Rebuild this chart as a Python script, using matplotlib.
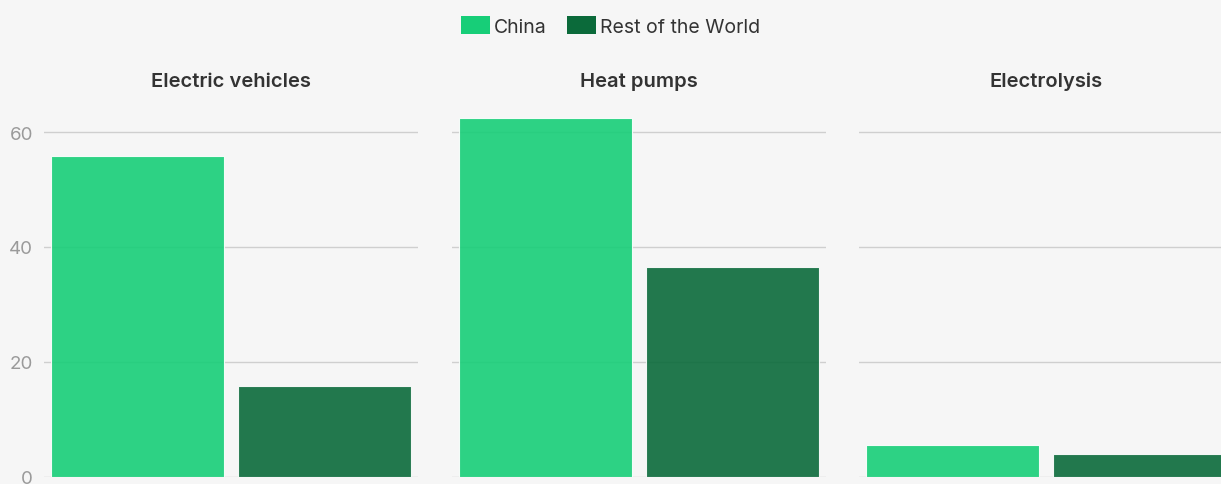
"""Clean-tech manufacturing share: China vs rest of the world."""

import matplotlib.pyplot as plt
from matplotlib.patches import Patch

technologies = ["Electric vehicles", "Heat pumps", "Electrolysis"]
regions = ["China", "Rest of the World"]
china = [55.8, 62.4, 5.6]
rest_of_world = [15.8, 36.5, 4.0]
y_ticks = [0, 20, 40, 60]

BG = "#f6f6f6"
COLORS = ["#17ce78", "#0b6a3a"]
FONT = ["Inter", "DejaVu Sans"]

plt.rcParams["font.family"] = FONT

W, H = 1221, 485
fig = plt.figure(figsize=(W / 100, H / 100), dpi=100, facecolor=BG)

# axes placed in pixel terms: left edge, width, bottom, height
panel_left = [44, 452, 859]
panel_w = 374
bottom_px = 7
height_px = 65 * 5.75

for i, (name, left) in enumerate(zip(technologies, panel_left)):
    ax = fig.add_axes([left / W, bottom_px / H, panel_w / W, height_px / H])
    ax.set_facecolor(BG)
    values = [china[i], rest_of_world[i]]
    ax.bar([0, 1], values, width=0.925, color=COLORS, alpha=0.9,
           edgecolor=(1, 1, 1, 0.5), linewidth=0.8, zorder=3)
    ax.set_xlim(-0.5, 1.5)
    ax.set_ylim(0, 65)
    ax.set_yticks(y_ticks)
    ax.grid(axis="y", color="#cfcfcf", linewidth=1, zorder=0)
    ax.set_xticks([])
    for side in ax.spines.values():
        side.set_visible(False)
    ax.tick_params(axis="y", length=0, pad=8, labelsize=13.5,
                   labelcolor="#9a9a9a")
    if i > 0:
        ax.set_yticklabels([])
    ax.set_title(name, fontsize=14.5, fontweight="semibold", color="#333333",
                 pad=0, y=(478 - 87) / height_px)

handles = [Patch(facecolor=c, edgecolor="none") for c in COLORS]
fig.legend(handles, regions, loc="center", bbox_to_anchor=(0.5, 1 - 27 / H),
           ncol=2, frameon=False, fontsize=14, labelcolor="#333333",
           handlelength=1.5, handleheight=1.0, handletextpad=0.2,
           columnspacing=1.0)

fig.savefig("out.png", dpi=100, facecolor=BG)
